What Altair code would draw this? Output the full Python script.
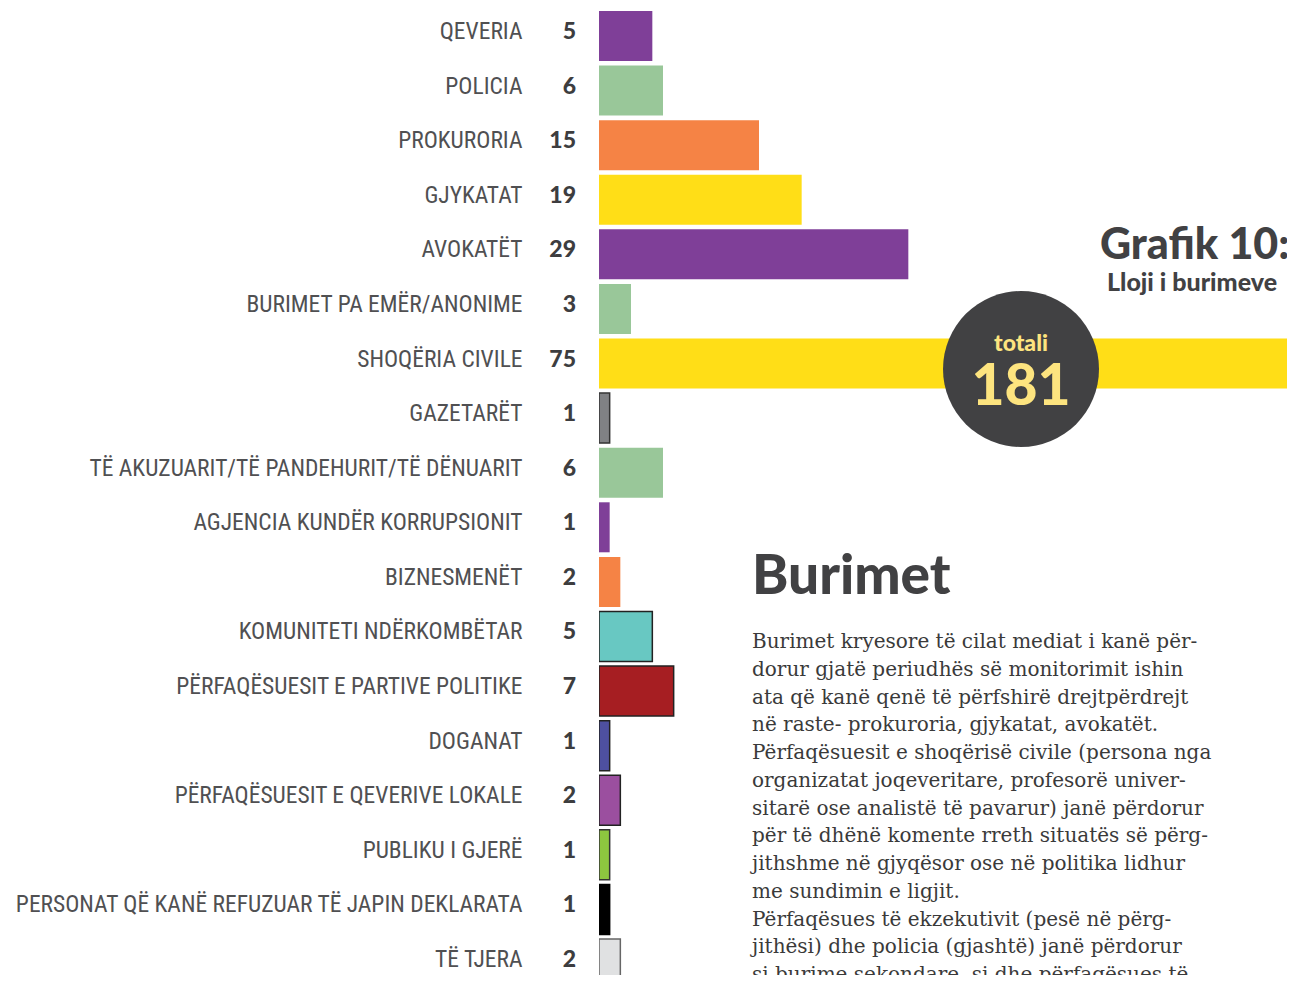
import altair as alt
import pandas as pd

categories = [
    "QEVERIA", "POLICIA", "PROKURORIA", "GJYKATAT", "AVOKATËT",
    "BURIMET PA EMËR/ANONIME", "SHOQËRIA CIVILE", "GAZETARËT",
    "TË AKUZUARIT/TË PANDEHURIT/TË DËNUARIT", "AGJENCIA KUNDËR KORRUPSIONIT",
    "BIZNESMENËT", "KOMUNITETI NDËRKOMBËTAR", "PËRFAQËSUESIT E PARTIVE POLITIKE",
    "DOGANAT", "PËRFAQËSUESIT E QEVERIVE LOKALE", "PUBLIKU I GJERË",
    "PERSONAT QË KANË REFUZUAR TË JAPIN DEKLARATA", "TË TJERA",
]
values = [5, 6, 15, 19, 29, 3, 75, 1, 6, 1, 2, 5, 7, 1, 2, 1, 1, 2]
colors = [
    "#7f3f98", "#99c799", "#f58345", "#ffde17", "#7f3f98", "#99c799",
    "#ffde17", "#808184", "#99c799", "#7f3f98", "#f58345", "#68c8c2",
    "#a61e22", "#4e50a0", "#9b4f9f", "#8dc63f", "#000000", "#e0e1e2",
]
strokes = [
    None, None, None, None, None, None, None, "#333333", None, None, None,
    "#222222", "#222222", "#222222", "#222222", "#333333", "#000000", "#666666",
]

total_label = "totali"
total_value = "181"
title_text = "Grafik 10:"
subtitle_text = "Lloji i burimeve"
heading_text = "Burimet"
paragraph_lines = [
    "Burimet kryesore të cilat mediat i kanë për-",
    "dorur gjatë periudhës së monitorimit ishin",
    "ata që kanë qenë të përfshirë drejtpërdrejt",
    "në raste- prokuroria, gjykatat, avokatët.",
    "Përfaqësuesit e shoqërisë civile (persona nga",
    "organizatat joqeveritare, profesorë univer-",
    "sitarë ose analistë të pavarur) janë përdorur",
    "për të dhënë komente rreth situatës së përg-",
    "jithshme në gjyqësor ose në politika lidhur",
    "me sundimin e ligjit.",
    "Përfaqësues të ekzekutivit (pesë në përg-",
    "jithësi) dhe policia (gjashtë) janë përdorur",
    "si burime sekondare, si dhe përfaqësues të",
]

df = pd.DataFrame({
    "cat": categories,
    "val": values,
    "color": colors,
    "stroke": [s if s else c for s, c in zip(strokes, colors)],
    "sw": [1.5 if s else 0 for s in strokes],
})

DARK = "#414143"
LABEL_FONT = "Liberation Sans Narrow, Roboto Condensed, DejaVu Sans Condensed, Roboto"
HEAVY_FONT = "Lato"

y_enc = alt.Y(
    "cat:N", sort=categories, title=None,
    scale=alt.Scale(range=[0, 984], paddingInner=0.084, paddingOuter=0.055),
    axis=alt.Axis(domain=False, ticks=False, grid=False, labelPadding=77,
                  labelOffset=-4,
                  labelFont=LABEL_FONT, labelFontSize=23.5, labelFontWeight="normal",
                  labelColor="#505052", labelLimit=700),
)

base = alt.Chart(df)

bars = base.mark_bar(clip=True).encode(
    x=alt.X("val:Q", title=None, scale=alt.Scale(domain=[0, 64.5], nice=False, zero=True),
            axis=None),
    y=y_enc,
    fill=alt.Fill("color:N", scale=None),
    stroke=alt.Stroke("stroke:N", scale=None),
    strokeWidth=alt.StrokeWidth("sw:Q", scale=None),
)

nums = base.mark_text(align="right", baseline="middle", font=HEAVY_FONT, fontWeight=900,
                      fontSize=23, color="#3d3d3f", dy=-4).encode(
    x=alt.value(-23),
    y=alt.Y("cat:N", sort=categories),
    text="val:Q",
)

one = pd.DataFrame({"k": [0]})
ann = alt.Chart(one)

circle = ann.mark_circle(opacity=1, color=DARK, size=24336).encode(
    x=alt.value(422), y=alt.value(361))
totali = ann.mark_text(text=total_label, align="center", baseline="alphabetic",
                       font=HEAVY_FONT, fontWeight=900, fontSize=23, color="#fde47f").encode(
    x=alt.value(422), y=alt.value(343))
num181 = ann.mark_text(text=total_value, align="center", baseline="alphabetic",
                       font=HEAVY_FONT, fontWeight=900, fontSize=57, color="#fde47f").encode(
    x=alt.value(422), y=alt.value(397))
title = ann.mark_text(text=title_text, align="left", baseline="alphabetic",
                      font=HEAVY_FONT, fontWeight=900, fontSize=43, color=DARK).encode(
    x=alt.value(501), y=alt.value(251))
subtitle = ann.mark_text(text=subtitle_text, align="left", baseline="alphabetic",
                         font=HEAVY_FONT, fontWeight=900, fontSize=25, color=DARK).encode(
    x=alt.value(508), y=alt.value(283))
heading = ann.mark_text(text=heading_text, align="left", baseline="alphabetic",
                        font=HEAVY_FONT, fontWeight=900, fontSize=55, color=DARK).encode(
    x=alt.value(153), y=alt.value(586))
para = ann.mark_text(text=paragraph_lines, align="left", baseline="alphabetic",
                     font="DejaVu Serif", fontSize=20, lineHeight=27.75,
                     color="#3a3a3a").encode(
    x=alt.value(153), y=alt.value(640))

chart = alt.layer(bars, nums, circle, totali, num181, title, subtitle, heading, para).properties(
    width=688, height=967,
    autosize=alt.AutoSizeParams(type="none"),
    padding={"left": 591, "top": 0, "right": 0, "bottom": 0},
).configure(background="white").configure_view(strokeWidth=0, stroke=None)

chart.save("out.html", embed_options={"renderer": "svg", "actions": False})
